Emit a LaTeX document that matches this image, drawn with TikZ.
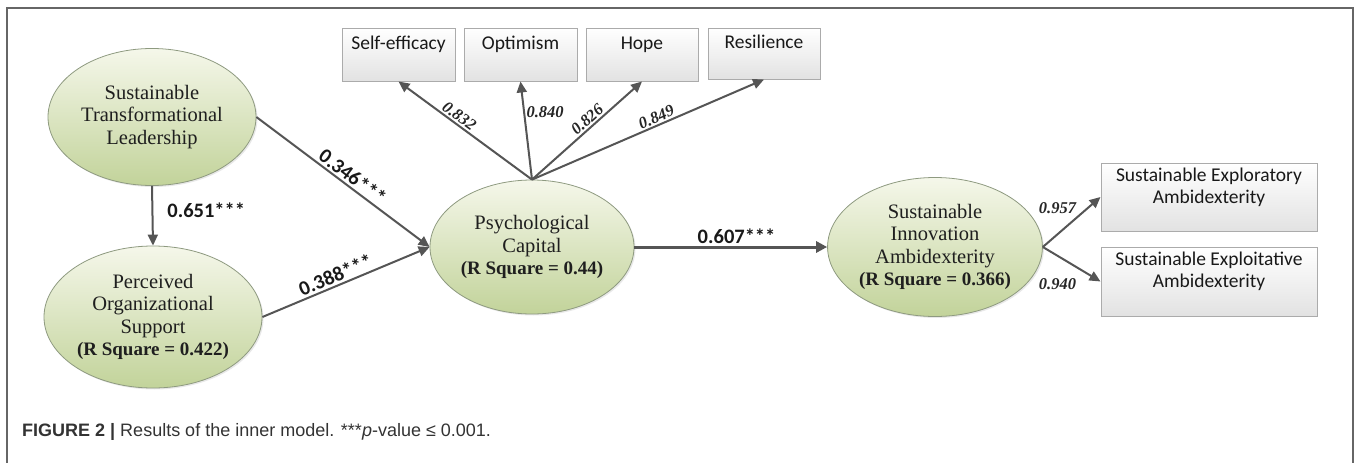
\documentclass[tikz,border=0pt]{standalone}
\usepackage{fontspec}
\setmainfont{Liberation Serif}
\newfontfamily\carlfont{Carlito}
\newfontfamily\capfont{Liberation Sans}
\usetikzlibrary{shapes.geometric,arrows.meta,shadows}
\definecolor{arrowgray}{HTML}{555555}
\definecolor{elltop}{HTML}{F5F7EA}
\definecolor{ellbot}{HTML}{C2D39A}
\definecolor{ellline}{HTML}{8E9A80}
\definecolor{boxline}{HTML}{ABABAB}
\definecolor{boxbot}{HTML}{E2E2E2}
\definecolor{framecol}{HTML}{666666}
\tikzset{
  latent/.style={ellipse, draw=ellline, line width=0.8pt, top color=elltop, bottom color=ellbot,
    inner sep=0pt, align=center, text=black!88,
    font=\fontsize{20.5}{22.5}\selectfont,
    drop shadow={opacity=0.18, shadow xshift=1.5pt, shadow yshift=-1.5pt}},
  indic/.style={rectangle, draw=boxline, line width=1pt, top color=white, bottom color=boxbot,
    inner sep=0pt, align=center, text=black!90,
    font=\carlfont\fontsize{19.5}{22}\selectfont,
    drop shadow={opacity=0.15, shadow xshift=1.2pt, shadow yshift=-1.2pt}},
  conn/.style={draw=arrowgray, line width=2pt, -{Triangle[length=11pt,width=10pt]}},
  thickconn/.style={draw=arrowgray, line width=3pt, -{Triangle[length=11pt,width=11pt]}},
  pathlab/.style={font=\carlfont\bfseries\fontsize{20.5}{22}\selectfont, text=black!90, inner sep=2pt},
  loadlab/.style={font=\bfseries\itshape\fontsize{16.5}{17}\selectfont, text=black!85, inner sep=1.5pt}
}
\begin{document}
\begin{tikzpicture}[x=1pt,y=-1pt]
\useasboundingbox (0,0) rectangle (1358,463);
% frame
\draw[framecol, line width=1.5pt] (7,470) |- (1353,8) -- (1353,470);

% latent variables
\node[latent, minimum width=208pt, minimum height=137pt] (stl) at (152,117)
  {Sustainable\\Transformational\\Leadership};
\node[latent, minimum width=218pt, minimum height=142pt] (pos) at (153,317)
  {Perceived\\Organizational\\Support\\{\bfseries\fontsize{19}{22.5}\selectfont(R Square = 0.422)}};
\node[latent, minimum width=204pt, minimum height=134pt] (pc) at (532,247)
  {Psychological\\Capital\\{\bfseries\fontsize{19}{22.5}\selectfont(R Square = 0.44)}};
\node[latent, minimum width=211pt, minimum height=139pt] (sia) at (935,247)
  {Sustainable\\Innovation\\Ambidexterity\\{\bfseries\fontsize{19}{22.5}\selectfont(R Square = 0.366)}};

% indicators
\node[indic, minimum width=113pt, minimum height=53pt] (se) at (398.5,54.5) {Self-efficacy\\[-6pt]\strut};
\node[indic, minimum width=113pt, minimum height=53pt] (op) at (520.5,54.5) {Optimism\\[-6pt]\strut};
\node[indic, minimum width=112pt, minimum height=53pt] (ho) at (642,54.5) {Hope\\[-6pt]\strut};
\node[indic, minimum width=112pt, minimum height=51pt] (re) at (764,53.5) {Resilience\\[-6pt]\strut};
\node[indic, minimum width=216pt, minimum height=68pt] (ex1) at (1209,197) {Sustainable Exploratory\\Ambidexterity\\[-6pt]\strut};
\node[indic, minimum width=216pt, minimum height=69pt] (ex2) at (1209,281.5) {Sustainable Exploitative\\Ambidexterity\\[-6pt]\strut};

% structural paths
\draw[conn] (stl.south) -- node[pathlab, right, pos=0.4, xshift=12pt] {0.651***} (pos.north);
\draw[conn] (stl.east) -- node[pathlab, sloped, above, pos=0.52] {0.346***} (pc.west);
\draw[conn] (pos.east) -- node[pathlab, sloped, above, pos=0.46] {0.388***} (pc.west);
\draw[thickconn] (pc.east) -- node[pathlab, above, pos=0.53] {0.607***} (sia.west);

% loadings
\draw[conn] (pc.north) -- node[loadlab, sloped, above, pos=0.58] {0.832} (se.south);
\draw[conn] (pc.north) -- node[loadlab, right, pos=0.69] {0.840} (op.south);
\draw[conn] (pc.north) -- node[loadlab, sloped, above, pos=0.55] {0.826} (ho.south);
\draw[conn] (pc.north) -- node[loadlab, sloped, above, pos=0.55] {0.849} (re.south);
\draw[conn] (sia.east) -- node[loadlab, above left, pos=0.62] {0.957} (ex1.west);
\draw[conn] (sia.east) -- node[loadlab, below left, pos=0.62, yshift=-8pt] {0.940} (ex2.west);

% caption
\node[anchor=west, inner sep=0pt, font=\capfont\fontsize{18}{20}\selectfont, text=black!80] (cap) at (22,432)
  {{\bfseries FIGURE 2 |} Results of the inner model. ***\textit{p}-value ≤ 0.001.};
\end{tikzpicture}
\end{document}
